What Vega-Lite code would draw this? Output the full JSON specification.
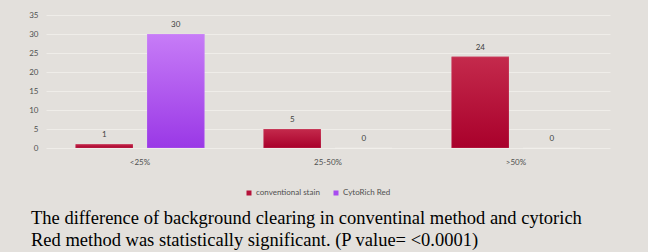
{
  "$schema": "https://vega.github.io/schema/vega-lite/v6.json",
  "autosize": {"type": "none"},
  "padding": {"left": 46, "top": 15, "right": 38, "bottom": 104},
  "width": 564,
  "height": 133,
  "background": "#e3e0dc",
  "config": {
    "view": {"stroke": null},
    "font": "Lato"
  },
  "title": {
    "text": ["The difference of background clearing in conventinal method  and cytorich", "Red method was statistically significant. (P value= <0.0001)"],
    "orient": "bottom",
    "anchor": "start",
    "frame": "group",
    "font": "Liberation Serif",
    "fontSize": 18.5,
    "fontWeight": "normal",
    "color": "#000000",
    "lineHeight": 22,
    "dx": -15,
    "offset": 12
  },
  "data": {
    "values": [
      {"cat": "<25%", "series": "conventional stain", "value": 1},
      {"cat": "<25%", "series": "CytoRich Red", "value": 30},
      {"cat": "25-50%", "series": "conventional stain", "value": 5},
      {"cat": "25-50%", "series": "CytoRich Red", "value": 0},
      {"cat": ">50%", "series": "conventional stain", "value": 24},
      {"cat": ">50%", "series": "CytoRich Red", "value": 0}
    ]
  },
  "encoding": {
    "x": {
      "field": "cat", "type": "nominal", "sort": ["<25%", "25-50%", ">50%"],
      "scale": {"paddingInner": 0.315, "paddingOuter": 0.1575},
      "axis": {"title": null, "labelAngle": 0, "ticks": false, "domain": false, "labelPadding": 10, "labelFontSize": 8, "labelColor": "#505050", "grid": false}
    },
    "xOffset": {
      "field": "series", "type": "nominal",
      "scale": {"domain": ["conventional stain", "CytoRich Red"], "paddingInner": 0.196, "paddingOuter": 0}
    },
    "y": {
      "field": "value", "type": "quantitative",
      "scale": {"domain": [0, 35], "nice": false},
      "axis": {"title": null, "values": [0, 5, 10, 15, 20, 25, 30, 35], "ticks": false, "domain": false, "labelPadding": 8, "labelFontSize": 8, "labelColor": "#505050", "gridColor": "#efede9", "gridWidth": 1}
    }
  },
  "layer": [
    {
      "mark": {"type": "bar"},
      "encoding": {
        "color": {
          "field": "series", "type": "nominal",
          "scale": {"domain": ["conventional stain", "CytoRich Red"], "range": ["#b5123a", "#a84cf0"]},
          "legend": {
            "title": null, "orient": "none", "direction": "horizontal",
            "legendX": 199, "legendY": 174,
            "symbolType": "square", "symbolSize": 25, "symbolStrokeWidth": 0,
            "labelFontSize": 8, "labelColor": "#505050", "columnPadding": 12, "labelOffset": 3
          }
        }
      }
    },
    {
      "transform": [{"filter": "datum.series === 'conventional stain'"}],
      "mark": {"type": "bar", "stroke": "#ffffff", "strokeOpacity": 0.3, "strokeWidth": 0.5,
        "color": {"gradient": "linear", "x1": 0, "y1": 0, "x2": 0, "y2": 1, "stops": [{"offset": 0, "color": "#c42a4c"}, {"offset": 1, "color": "#a9002b"}]}},
      "encoding": {}
    },
    {
      "transform": [{"filter": "datum.series === 'CytoRich Red'"}],
      "mark": {"type": "bar", "stroke": "#ffffff", "strokeOpacity": 0.3, "strokeWidth": 0.5,
        "color": {"gradient": "linear", "x1": 0, "y1": 0, "x2": 0, "y2": 1, "stops": [{"offset": 0, "color": "#c77cf7"}, {"offset": 1, "color": "#9a38e6"}]}},
      "encoding": {}
    },
    {
      "mark": {"type": "text", "baseline": "middle", "dy": -9, "fontSize": 8, "color": "#404040"},
      "encoding": {
        "text": {"field": "value", "type": "quantitative"}
      }
    }
  ]
}
